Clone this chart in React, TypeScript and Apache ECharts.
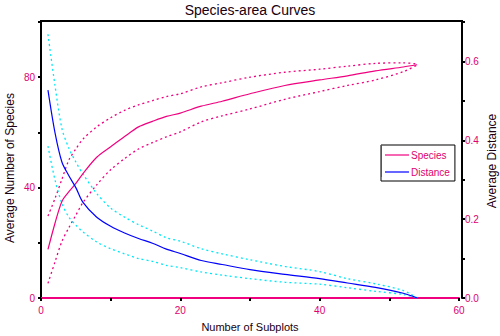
import React, { useEffect, useRef } from "react";
import * as echarts from "echarts";

const subplots = [1, 2, 3, 4, 5, 6, 8, 10, 12, 14, 16, 18, 20, 23, 26, 30, 35, 40, 44, 48, 52, 54];
const speciesMean = [17.6, 27, 35, 38.5, 41.5, 45, 51, 54.8, 58.5, 62, 64, 65.8, 67, 69.5, 71.3, 74, 77, 79, 80.5, 82.3, 83.7, 84.5];
const speciesUpper = [29.7, 36, 43, 50, 54, 57.5, 62, 65.3, 68, 70, 71.5, 73, 74, 76.5, 78, 80, 81.8, 82.9, 84, 85, 85.2, 84.8];
const speciesLower = [5.3, 13, 20.5, 25.5, 30, 34.5, 41, 46.5, 50.5, 54, 56.3, 58.4, 60.2, 63.8, 66, 68.5, 72, 74.8, 77, 79, 82, 84.4];
const distMean = [0.527, 0.42, 0.345, 0.31, 0.28, 0.243, 0.205, 0.182, 0.165, 0.151, 0.139, 0.124, 0.113, 0.095, 0.085, 0.072, 0.06, 0.049, 0.038, 0.027, 0.012, 0];
const distUpper = [0.669, 0.54, 0.43, 0.38, 0.345, 0.315, 0.265, 0.228, 0.205, 0.186, 0.17, 0.153, 0.144, 0.125, 0.112, 0.097, 0.08, 0.067, 0.049, 0.036, 0.019, 0];
const distLower = [0.385, 0.3, 0.24, 0.205, 0.185, 0.168, 0.142, 0.125, 0.112, 0.1, 0.093, 0.083, 0.077, 0.066, 0.058, 0.049, 0.04, 0.035, 0.026, 0.017, 0.009, 0];

const xTicksLabeled = [0, 20, 40, 60];
const leftTicksLabeled = [0, 40, 80];
const rightTicksLabeled = [0, 0.2, 0.4, 0.6];

const MAG = "#f0007f";
const BLUE = "#0000ff";
const CYAN = "#00e8f8";
const LABEL = "#e0006e";
const FONT = "Liberation Sans, Arial, sans-serif";

const pairs = (ys: number[]) => subplots.map((x, i) => [x, ys[i]]);

export default function App() {
  const ref = useRef<HTMLDivElement>(null);
  useEffect(() => {
    if (!ref.current) return;
    const chart = echarts.init(ref.current, undefined, { renderer: "svg" });
    const line = (name: string, data: number[], color: string, yIdx: number, dotted: boolean) => ({
      name,
      type: "line",
      yAxisIndex: yIdx,
      data: pairs(data),
      smooth: 0.3,
      showSymbol: false,
      symbol: "none",
      lineStyle: { color, width: dotted ? 1.3 : 1.2, type: dotted ? [2, 3] : "solid" },
      itemStyle: { color },
      z: dotted ? 2 : 3,
    });
    chart.setOption({
      animation: false,
      backgroundColor: "#fff",
      textStyle: { fontFamily: FONT },
      grid: { left: 41, right: 41, top: 22, bottom: 38 },
      legend: {
        data: [
          { name: "Species", icon: "rect" },
          { name: "Distance", icon: "rect" },
        ],
        orient: "vertical",
        left: 381,
        top: 145,
        width: 75,
        padding: [5, 5, 4, 4],
        itemGap: 7,
        itemWidth: 24,
        itemHeight: 1.2,
        borderColor: "#000",
        borderWidth: 1,
        backgroundColor: "#fff",
        textStyle: { color: LABEL, fontSize: 10, fontFamily: FONT, padding: [0, 0, 0, -3] },
      },
      xAxis: {
        type: "value",
        min: 0,
        max: 60,
        interval: 10,
        offset: 2,
        axisLine: { show: true, lineStyle: { color: MAG, width: 2 } },
        axisTick: { show: true, length: 3, lineStyle: { color: "#000", width: 2 } },
        splitLine: { show: false },
        axisLabel: {
          color: LABEL,
          fontSize: 10,
          margin: 5,
          formatter: (v: number) => (xTicksLabeled.includes(v) ? String(v) : ""),
        },
      },
      yAxis: [
        {
          type: "value",
          min: 0,
          max: 100,
          interval: 20,
          offset: 1,
          axisLine: { show: true, lineStyle: { color: "#000", width: 2 } },
          axisTick: { show: true, length: 3, lineStyle: { color: "#000", width: 2 } },
          splitLine: { show: false },
          axisLabel: {
            color: LABEL,
            fontSize: 10,
            margin: 5,
            formatter: (v: number) => (leftTicksLabeled.includes(v) ? String(v) : ""),
          },
        },
        {
          type: "value",
          min: 0,
          max: 0.7,
          interval: 0.1,
          offset: 3,
          position: "right",
          axisLine: { show: true, lineStyle: { color: "#000", width: 2 } },
          axisTick: { show: true, length: 3, lineStyle: { color: "#000", width: 2 } },
          splitLine: { show: false },
          axisLabel: {
            color: LABEL,
            fontSize: 10,
            margin: 3,
            formatter: (v: number) =>
              rightTicksLabeled.some((t) => Math.abs(t - v) < 1e-6) ? v.toFixed(1) : "",
          },
        },
      ],
      graphic: [
        { type: "line", shape: { x1: 40, y1: 21, x2: 463, y2: 21 }, style: { stroke: "#000", lineWidth: 2 } },
        { type: "line", shape: { x1: 381.5, y1: 145, x2: 381.5, y2: 177 }, style: { stroke: MAG, lineWidth: 1 }, z: 100 },
        {
          type: "text",
          left: "center",
          top: 3,
          style: { text: "Species-area Curves", fontSize: 14, fill: "#1a0010", font: `14px ${FONT}` },
        },
        {
          type: "text",
          x: 250,
          y: 327,
          style: { text: "Number of Subplots", fill: "#1a0010", font: `11px ${FONT}`, align: "center", verticalAlign: "middle" },
        },
        {
          type: "text",
          x: 10,
          y: 168,
          rotation: Math.PI / 2,
          style: { text: "Average Number of Species", fill: "#1a0010", font: `12px ${FONT}`, align: "center", verticalAlign: "middle" },
        },
        {
          type: "text",
          x: 492,
          y: 161,
          rotation: Math.PI / 2,
          style: { text: "Average Distance", fill: "#1a0010", font: `12px ${FONT}`, align: "center", verticalAlign: "middle" },
        },
      ],
      series: [
        line("Species upper", speciesUpper, MAG, 0, true),
        line("Species lower", speciesLower, MAG, 0, true),
        line("Distance upper", distUpper, CYAN, 1, true),
        line("Distance lower", distLower, CYAN, 1, true),
        line("Species", speciesMean, MAG, 0, false),
        line("Distance", distMean, BLUE, 1, false),
      ],
    });
    return () => chart.dispose();
  }, []);
  return (
    <div
      ref={ref}
      style={{ position: "fixed", left: 0, top: 0, width: 500, height: 336, background: "#fff" }}
    />
  );
}
